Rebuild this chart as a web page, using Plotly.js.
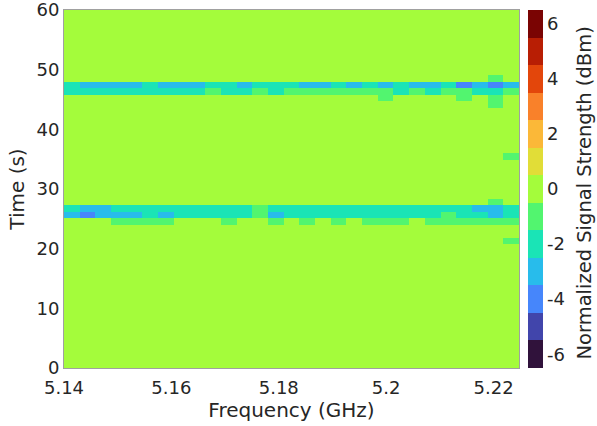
<!DOCTYPE html>
<html>
<head>
<meta charset="utf-8">
<script src="https://cdn.plot.ly/plotly-3.0.1.min.js"></script>
<style>
  html, body { margin: 0; padding: 0; background: #ffffff; }
  #chart { width: 597px; height: 426px; }
</style>
</head>
<body>
<div id="chart"></div>
<script>
// ---- data ----
// frequency bins (29 columns) and time bins (55 rows, 0..60 s)
const freqStartGHz = 5.14;
const freqBinGHz = 0.002922;
const freqBinCount = 29;
const timeStartS = 0;
const timeBinS = 60 / 55;
const timeBinCount = 55;

// ticks
const cbTickVals = [-6, -4, -2, 0, 2, 4, 6];
const cbTickText = ['-6', '-4', '-2', '0', '2', '4', '6'];
const xTickVals = [5.14, 5.16, 5.18, 5.20, 5.22];
const xTickText = ['5.14', '5.16', '5.18', '5.2', '5.22'];
const yTickVals = [0, 10, 20, 30, 40, 50, 60];
const yTickText = ['0', '10', '20', '30', '40', '50', '60'];

// background level (all other cells)
const backgroundLevel = 0;

// rows that differ from the background (row index counted from t = 0)
const row19 = [0,0,0,0,0,0,0,0,0,0, 0,0,0,0,0,0,0,0,0,0, 0,0,0,0,0,0,0,0,-1];
const row22 = [0,0,0,-1,-1,-1,-1,0,0,0, -1,0,0,-1,0,-1,0,-1,0,-1, -1,-1,0,-1,-1,-1,-1,-1,-1];
const row23 = [-3,-4,-3,-3,-3,-2,-3,-2,-2,-2, -2,-2,-1,-3,-2,-2,-2,-2,-2,-2, -2,-2,-2,-2,-1,-2,-2,-3,-2];
const row24 = [-2,-3,-3,-2,-2,-2,-2,-2,-2,-2, -2,-2,-1,-2,-2,-2,-2,-2,-2,-2, -2,-2,-2,-2,-2,-2,-3,-3,-2];
const row25 = [0,0,0,0,0,0,0,0,0,0, 0,0,0,0,0,0,0,0,0,0, 0,0,0,0,0,0,0,-1,0];
const row32 = [0,0,0,0,0,0,0,0,0,0, 0,0,0,0,0,0,0,0,0,0, 0,0,0,0,0,0,0,0,-1];
const row40 = [0,0,0,0,0,0,0,0,0,0, 0,0,0,0,0,0,0,0,0,0, 0,0,0,0,0,0,0,-1,0];
const row41 = [0,0,0,0,0,0,0,0,0,0, 0,0,0,0,0,0,0,0,0,0, -1,0,0,0,0,-1,0,-1,0];
const row42 = [-2,-2,-2,-2,-2,-2,-2,-2,-2,-1, -2,-2,-1,-2,-1,-1,-1,-1,-1,-1, -1,-2,-1,-2,-1,-1,-2,-2,-1];
const row43 = [-2,-3,-3,-3,-3,-2,-3,-3,-3,-2, -2,-3,-2,-2,-2,-3,-3,-2,-3,-2, -3,-2,-3,-3,-2,-4,-3,-4,-3];
const row44 = [0,0,0,0,0,0,0,0,0,0, 0,0,0,0,0,0,0,0,0,0, 0,0,0,0,0,0,0,-1,0];

const specialRows = {19: row19, 22: row22, 23: row23, 24: row24, 25: row25,
                     32: row32, 40: row40, 41: row41, 42: row42, 43: row43, 44: row44};

// ---- build the matrix ----
const z = [];
for (let r = 0; r < timeBinCount; r++) {
  if (specialRows[r]) z.push(specialRows[r].slice());
  else z.push(new Array(freqBinCount).fill(backgroundLevel));
}

// ---- discrete turbo-like colorscale, 13 levels from -6 to 6 ----
const levelColors = ['#30123b','#4145ab','#4686fb','#28bceb','#1ae4b6','#52f56f','#a4fc3b',
                     '#e1dd37','#fbb838','#f9812a','#e3460b','#b81e04','#7a0403'];
const nLev = levelColors.length;
const colorscale = [];
levelColors.forEach((c, i) => {
  colorscale.push([i / nLev, c]);
  colorscale.push([(i + 1) / nLev, c]);
});

const fontFam = '"DejaVu Sans", "Liberation Sans", sans-serif';
const txtColor = '#262626';

const trace = {
  type: 'heatmap',
  z: z,
  x0: freqStartGHz + freqBinGHz / 2,
  dx: freqBinGHz,
  y0: timeStartS + timeBinS / 2,
  dy: timeBinS,
  zmin: -6.5,
  zmax: 6.5,
  colorscale: colorscale,
  hoverinfo: 'skip',
  colorbar: {
    thickness: 15, thicknessmode: 'pixels',
    len: 1, lenmode: 'fraction',
    x: 1.0198, xanchor: 'left', xpad: 0,
    y: 0.5, yanchor: 'middle', ypad: 0,
    tickvals: cbTickVals, ticktext: cbTickText,
    ticks: '',
    ticklabelposition: 'outside',
    ticklabeloverflow: 'allow',
    tickfont: {family: fontFam, size: 18, color: txtColor},
    outlinewidth: 0
  }
};

const layout = {
  width: 597, height: 426,
  margin: {l: 64, r: 78, t: 10, b: 58, pad: 0},
  paper_bgcolor: '#ffffff',
  plot_bgcolor: '#ffffff',
  font: {family: fontFam, color: txtColor, size: 18},
  xaxis: {
    range: [freqStartGHz, freqStartGHz + freqBinCount * freqBinGHz],
    tickvals: xTickVals, ticktext: xTickText,
    ticks: '', showgrid: false, zeroline: false,
    showline: true, mirror: true, linecolor: '#a0a0a0', linewidth: 1,
    tickfont: {family: fontFam, size: 18, color: txtColor},
    ticklabelstandoff: 3,
    ticklabeloverflow: 'allow',
    title: {text: 'Frequency (GHz)', font: {family: fontFam, size: 20, color: txtColor}, standoff: 5}
  },
  yaxis: {
    range: [-0.0001, 60.0001],
    tickvals: yTickVals, ticktext: yTickText,
    ticks: '', showgrid: false, zeroline: false,
    showline: true, mirror: true, linecolor: '#a0a0a0', linewidth: 1,
    tickfont: {family: fontFam, size: 18, color: txtColor},
    ticklabeloverflow: 'allow',
    title: {text: 'Time (s)', font: {family: fontFam, size: 20, color: txtColor}, standoff: 6}
  },
  annotations: [{
    text: 'Normalized Signal Strength (dBm)',
    xref: 'paper', yref: 'paper',
    x: 1.145, y: 0.49, xanchor: 'center', yanchor: 'middle',
    textangle: -90, showarrow: false,
    font: {family: fontFam, size: 19.5, color: txtColor}
  }]
};

Plotly.newPlot('chart', [trace], layout, {displayModeBar: false, staticPlot: true});
</script>
</body>
</html>
